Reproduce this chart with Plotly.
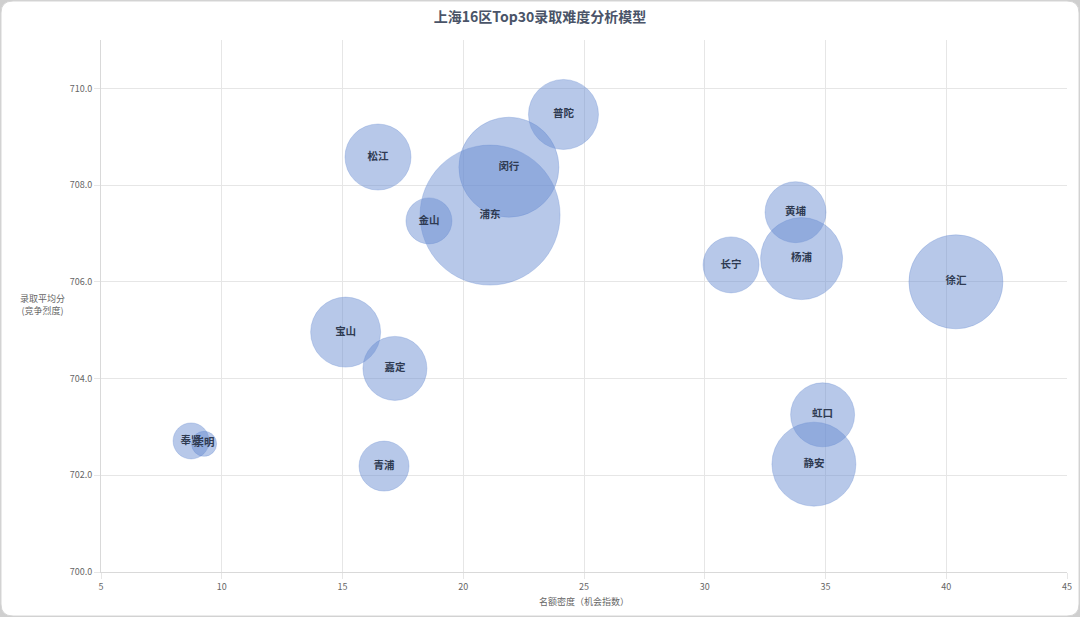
import plotly.graph_objects as go

# 上海16区 Top30 录取数据
districts = ['普陀', '松江', '闵行', '浦东', '金山', '宝山', '嘉定', '黄埔',
             '杨浦', '长宁', '徐汇', '虹口', '静安', '奉贤', '崇明', '青浦']
density = [24.15, 16.47, 21.89, 21.11, 18.58, 15.13, 17.17, 33.76,
           34.01, 31.09, 40.40, 34.88, 34.52, 8.73, 9.27, 16.72]
avg_score = [709.46, 708.58, 708.37, 707.38, 707.26, 704.96, 704.21, 707.44,
             706.48, 706.35, 706.00, 703.25, 702.23, 702.71, 702.65, 702.19]
# bubble radius (third dimension)
bubble_r = [35, 33, 50, 70, 23, 35, 32, 30.5,
            41, 28, 47, 32, 42, 18, 12.5, 25]

W, H = 1080, 617
ML, MR, MT, MB = 101, 13, 40, 45
pw, ph = W - ML - MR, H - MT - MB

fig = go.Figure()
fig.add_trace(go.Scatter(
    x=density, y=avg_score,
    mode='markers+text',
    text=districts,
    textposition='middle center',
    textfont=dict(family='Noto Sans CJK SC', size=10.5, color='#2f3b52', weight='bold'),
    marker=dict(
        size=[2 * r for r in bubble_r],
        sizemode='diameter', sizeref=1,
        color='rgba(104,140,210,0.48)',
        line=dict(color='rgba(104,140,210,0.3)', width=1),
        opacity=1,
    ),
    cliponaxis=False,
    hoverinfo='skip',
    showlegend=False,
))


# rounded white card on light grey edge
def px_x(p):
    return (p - ML) / pw


def px_y(p):
    return (H - MB - p) / ph


rad = 12
x0, x1, y0, y1 = 1, W - 1, 1, H - 1
path = (f"M {px_x(x0 + rad)} {px_y(y0)} L {px_x(x1 - rad)} {px_y(y0)} "
        f"Q {px_x(x1)} {px_y(y0)} {px_x(x1)} {px_y(y0 + rad)} "
        f"L {px_x(x1)} {px_y(y1 - rad)} Q {px_x(x1)} {px_y(y1)} {px_x(x1 - rad)} {px_y(y1)} "
        f"L {px_x(x0 + rad)} {px_y(y1)} Q {px_x(x0)} {px_y(y1)} {px_x(x0)} {px_y(y1 - rad)} "
        f"L {px_x(x0)} {px_y(y0 + rad)} Q {px_x(x0)} {px_y(y0)} {px_x(x0 + rad)} {px_y(y0)} Z")
fig.add_shape(type='path', path=path, xref='paper', yref='paper',
              fillcolor='white', line=dict(color='#d6d6d6', width=1), layer='below')

fig.add_annotation(text='录取平均分<br>(竞争烈度)', xref='paper', yref='paper',
                   x=px_x(42), y=px_y(304), xanchor='center', yanchor='middle',
                   showarrow=False,
                   font=dict(family='Noto Sans CJK SC', size=9, color='#666666'),
                   align='center')

fig.update_layout(
    width=W, height=H,
    margin=dict(l=ML, r=MR, t=MT, b=MB, autoexpand=False),
    paper_bgcolor='#cfcfcf',
    plot_bgcolor='rgba(0,0,0,0)',
    font=dict(family='Noto Sans CJK SC', size=9, color='#666666'),
    title=dict(text='上海16区Top30录取难度分析模型', x=0.5, xanchor='center',
               y=1 - 17 / H, yanchor='middle',
               font=dict(family='Noto Sans CJK SC', size=14, color='#4a5468', weight='bold')),
    xaxis=dict(range=[5, 45], tick0=5, dtick=5, showgrid=True, gridcolor='#e6e6e6',
               zeroline=False, showline=True, linecolor='#d9d9d9', automargin=False,
               ticks='outside', ticklen=6, tickcolor='#e6e6e6',
               title=dict(text='名额密度（机会指数）', standoff=6,
                          font=dict(size=9, color='#666666'))),
    yaxis=dict(range=[700, 711], tick0=700, dtick=2, tickformat='.1f', showgrid=True,
               gridcolor='#e6e6e6', zeroline=False, showline=True, linecolor='#d9d9d9',
               automargin=False, ticks='outside', ticklen=6, tickcolor='#e6e6e6'),
)

fig.write_html("out.html", config={'displayModeBar': False},
               post_script="document.body.style.margin='0';")
